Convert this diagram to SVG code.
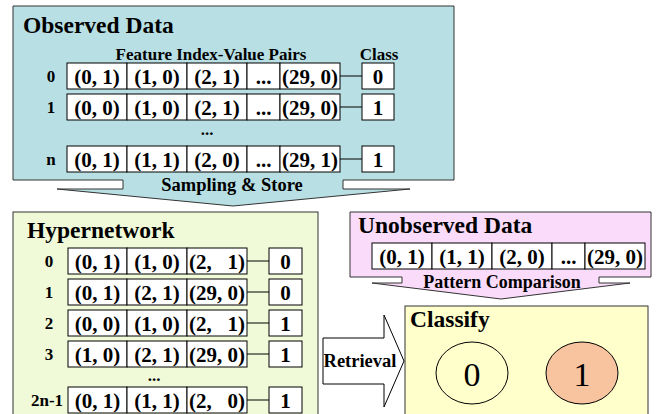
<svg xmlns="http://www.w3.org/2000/svg" width="660" height="414" viewBox="0 0 660 414">
<style>
text{font-weight:bold;fill:#000}
.title{font-size:23.5px}
.hdr{font-size:17px;text-anchor:middle}
.lbl{font-size:17px;text-anchor:middle}
.cell{font-size:21px;text-anchor:middle;white-space:pre}
.arrowtxt{font-size:18.5px;text-anchor:middle}
.big{font-size:34px;font-weight:normal;text-anchor:middle}
.box{stroke:#333;stroke-width:1}
.c{fill:#fff;stroke:#000;stroke-width:1}
.ln{stroke:#000;stroke-width:1;fill:none}
</style>
<g font-family="Liberation Serif, Times New Roman, Times, serif">
<g id="observed">
<path class="box" fill="#b8e0e4" d="M13,6 H454 V180 H343 V189 H410 L233,206 L57,189 H123 V180 H13 Z"/>
<text class="title" x="23" y="33">Observed Data</text>
<text class="hdr" x="211" y="60">Feature Index-Value Pairs</text>
<text class="hdr" x="379" y="60">Class</text>
<g>
<text class="lbl" x="51" y="82">0</text>
<rect class="c" x="67" y="63" width="60" height="26"/><rect class="c" x="127" y="63" width="60" height="26"/><rect class="c" x="187" y="63" width="60" height="26"/><rect class="c" x="247" y="63" width="33" height="26"/><rect class="c" x="280" y="63" width="60" height="26"/>
<text class="cell" x="97" y="84">(0, 1)</text><text class="cell" x="157" y="84">(1, 0)</text><text class="cell" x="217" y="84">(2, 1)</text><text class="cell" x="263.5" y="84">...</text><text class="cell" x="310" y="84">(29, 0)</text>
<line class="ln" x1="340" y1="76" x2="362" y2="76"/>
<rect class="c" x="362" y="63" width="32" height="26"/><text class="cell" x="378" y="84">0</text>
</g>
<g>
<text class="lbl" x="51" y="113">1</text>
<rect class="c" x="67" y="94" width="60" height="26"/><rect class="c" x="127" y="94" width="60" height="26"/><rect class="c" x="187" y="94" width="60" height="26"/><rect class="c" x="247" y="94" width="33" height="26"/><rect class="c" x="280" y="94" width="60" height="26"/>
<text class="cell" x="97" y="115">(0, 0)</text><text class="cell" x="157" y="115">(1, 0)</text><text class="cell" x="217" y="115">(2, 1)</text><text class="cell" x="263.5" y="115">...</text><text class="cell" x="310" y="115">(29, 0)</text>
<line class="ln" x1="340" y1="107" x2="362" y2="107"/>
<rect class="c" x="362" y="94" width="32" height="26"/><text class="cell" x="378" y="115">1</text>
</g>
<text class="lbl" x="207" y="135">...</text>
<g>
<text class="lbl" x="51" y="165">n</text>
<rect class="c" x="67" y="146" width="60" height="26"/><rect class="c" x="127" y="146" width="60" height="26"/><rect class="c" x="187" y="146" width="60" height="26"/><rect class="c" x="247" y="146" width="33" height="26"/><rect class="c" x="280" y="146" width="60" height="26"/>
<text class="cell" x="97" y="167">(0, 1)</text><text class="cell" x="157" y="167">(1, 1)</text><text class="cell" x="217" y="167">(2, 0)</text><text class="cell" x="263.5" y="167">...</text><text class="cell" x="310" y="167">(29, 1)</text>
<line class="ln" x1="340" y1="159" x2="362" y2="159"/>
<rect class="c" x="362" y="146" width="32" height="26"/><text class="cell" x="378" y="167">1</text>
</g>
<text class="arrowtxt" x="232" y="191">Sampling &amp; Store</text>
</g>
<g id="hypernetwork">
<rect class="box" fill="#f0fad8" x="13" y="212" width="305" height="220"/>
<text class="title" x="27" y="238">Hypernetwork</text>
<g>
<text class="lbl" x="49" y="267">0</text>
<rect class="c" x="68" y="248" width="59" height="26"/><rect class="c" x="127" y="248" width="60" height="26"/><rect class="c" x="187" y="248" width="60" height="26"/>
<text class="cell" x="97.5" y="269">(0, 1)</text><text class="cell" x="157" y="269">(1, 0)</text><text class="cell" x="217" y="269">(2,   1)</text>
<line class="ln" x1="247" y1="261" x2="269" y2="261"/>
<rect class="c" x="269" y="248" width="33" height="26"/><text class="cell" x="285.5" y="269">0</text>
</g>
<g>
<text class="lbl" x="49" y="298">1</text>
<rect class="c" x="68" y="279" width="59" height="26"/><rect class="c" x="127" y="279" width="60" height="26"/><rect class="c" x="187" y="279" width="60" height="26"/>
<text class="cell" x="97.5" y="300">(0, 1)</text><text class="cell" x="157" y="300">(2, 1)</text><text class="cell" x="217" y="300">(29, 0)</text>
<line class="ln" x1="247" y1="292" x2="269" y2="292"/>
<rect class="c" x="269" y="279" width="33" height="26"/><text class="cell" x="285.5" y="300">0</text>
</g>
<g>
<text class="lbl" x="49" y="329">2</text>
<rect class="c" x="68" y="310" width="59" height="26"/><rect class="c" x="127" y="310" width="60" height="26"/><rect class="c" x="187" y="310" width="60" height="26"/>
<text class="cell" x="97.5" y="331">(0, 0)</text><text class="cell" x="157" y="331">(1, 0)</text><text class="cell" x="217" y="331">(2,   1)</text>
<line class="ln" x1="247" y1="323" x2="269" y2="323"/>
<rect class="c" x="269" y="310" width="33" height="26"/><text class="cell" x="285.5" y="331">1</text>
</g>
<g>
<text class="lbl" x="49" y="360">3</text>
<rect class="c" x="68" y="341" width="59" height="26"/><rect class="c" x="127" y="341" width="60" height="26"/><rect class="c" x="187" y="341" width="60" height="26"/>
<text class="cell" x="97.5" y="362">(1, 0)</text><text class="cell" x="157" y="362">(2, 1)</text><text class="cell" x="217" y="362">(29, 0)</text>
<line class="ln" x1="247" y1="354" x2="269" y2="354"/>
<rect class="c" x="269" y="341" width="33" height="26"/><text class="cell" x="285.5" y="362">1</text>
</g>
<text class="lbl" x="154" y="381">...</text>
<g>
<text class="lbl" x="47" y="406">2n-1</text>
<rect class="c" x="68" y="387" width="59" height="26"/><rect class="c" x="127" y="387" width="60" height="26"/><rect class="c" x="187" y="387" width="60" height="26"/>
<text class="cell" x="97.5" y="408">(0, 1)</text><text class="cell" x="157" y="408">(1, 1)</text><text class="cell" x="217" y="408">(2,   0)</text>
<line class="ln" x1="247" y1="400" x2="269" y2="400"/>
<rect class="c" x="269" y="387" width="33" height="26"/><text class="cell" x="285.5" y="408">1</text>
</g>
</g>
<g id="unobserved">
<path class="box" fill="#fadcfa" d="M350,212 H651 V277 H599 V283 H630 L501,299 L372,283 H402 V277 H350 Z"/>
<text class="title" x="358" y="233">Unobserved Data</text>
<rect class="c" x="372" y="243" width="60" height="26"/><rect class="c" x="432" y="243" width="60" height="26"/><rect class="c" x="492" y="243" width="60" height="26"/><rect class="c" x="552" y="243" width="33" height="26"/><rect class="c" x="585" y="243" width="60" height="26"/>
<text class="cell" x="402" y="264">(0, 1)</text><text class="cell" x="462" y="264">(1, 1)</text><text class="cell" x="522" y="264">(2, 0)</text><text class="cell" x="568.5" y="264">...</text><text class="cell" x="615" y="264">(29, 0)</text>
<text class="arrowtxt" x="502" y="288" style="font-size:18px">Pattern Comparison</text>
</g>
<g id="classify">
<rect class="box" fill="#ffffcc" x="405" y="306" width="243" height="130"/>
<text class="title" x="410" y="327">Classify</text>
<ellipse cx="472" cy="373" rx="36" ry="31" fill="#ffffcc" stroke="#000" stroke-width="1"/>
<text class="big" x="472" y="386">0</text>
<ellipse cx="582" cy="373" rx="36" ry="31" fill="#f8c4a0" stroke="#000" stroke-width="1"/>
<text class="big" x="582" y="386">1</text>
</g>
<g id="connectors">
<path d="M323,338 H384 V315 L404,361 L384,407 V384 H323 Z" fill="#fff" stroke="#000" stroke-width="1"/>
<text class="arrowtxt" x="360" y="367">Retrieval</text>
</g>
</g>
</svg>
